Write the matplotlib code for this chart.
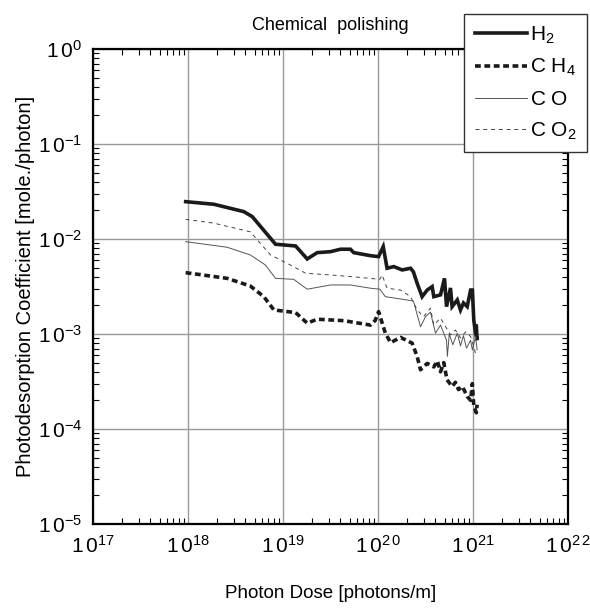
import numpy as np
import matplotlib.pyplot as plt
from matplotlib.ticker import LogLocator, FixedLocator, NullFormatter

plt.rcParams['font.family'] = ['Liberation Sans', 'DejaVu Sans']
plt.rcParams['mathtext.fontset'] = 'custom'
plt.rcParams['mathtext.rm'] = 'Liberation Sans'
plt.rcParams['mathtext.it'] = 'Liberation Sans:italic'

# H2
h2_x = [9.4e17, 1.86e18, 3.85e18, 4.72e18, 8.3e18, 1.35e19, 1.79e19, 2.28e19, 3.15e19, 4.01e19,
        5.1e19, 5.53e19, 8.3e19, 1.01e20, 1.13e20, 1.24e20, 1.46e20, 1.79e20, 2.19e20, 2.35e20,
        2.57e20, 2.9e20, 3.28e20, 3.7e20, 3.85e20, 4.53e20, 4.99e20, 5.24e20, 5.77e20, 6.0e20,
        6.8e20, 7.35e20, 7.9e20, 8.65e20, 9.4e20, 9.8e20, 1.015e21, 1.06e21, 1.1e21, 1.08e21]
h2_y = [0.0247, 0.0232, 0.0194, 0.0172, 0.0088, 0.00844, 0.00616, 0.00718, 0.00735, 0.0078,
        0.0078, 0.00718, 0.00667, 0.00652, 0.0083, 0.00492, 0.00512, 0.00472, 0.00492, 0.0045,
        0.00342, 0.00247, 0.0029, 0.00315, 0.00247, 0.00258, 0.00385, 0.00194, 0.00305, 0.00194,
        0.00228, 0.00179, 0.00212, 0.00194, 0.0029, 0.0029, 0.0014, 0.00102, 0.00086, 0.00121]

# CH4
ch4_x = [9.4e17, 2.57e18, 4.5e18, 6.25e18, 7.98e18, 1.35e19, 1.79e19, 2.28e19, 4.37e19, 8.3e19,
         9.3e19, 1.01e20, 1.19e20, 1.35e20, 1.72e20, 2.28e20, 2.57e20, 2.79e20, 3.28e20, 3.85e20,
         4.2e20, 4.53e20, 4.9e20, 5.3e20, 6.0e20, 6.5e20, 7.0e20, 7.7e20, 8.65e20, 9.4e20,
         9.8e20, 1.015e21, 1.08e21, 1.1e21]
ch4_y = [0.00442, 0.00385, 0.0032, 0.00247, 0.00179, 0.00168, 0.0013, 0.00143, 0.00138, 0.00124,
         0.00139, 0.00172, 0.00102, 0.00081, 0.00092, 0.0008, 0.00058, 0.00042, 0.00049, 0.00045,
         0.00052, 0.0004, 0.0005, 0.00033, 0.00028, 0.00031, 0.00026, 0.00028, 0.00022, 0.0002,
         0.0003, 0.000174, 0.000148, 0.00018]

# CO
co_x = [9.4e17, 2.57e18, 4.5e18, 6.5e18, 8.3e18, 1.29e19, 1.79e19, 3.15e19, 5.1e19, 8.3e19,
        1.04e20, 1.19e20, 2.02e20, 2.35e20, 2.79e20, 3.15e20, 3.55e20, 4.01e20, 4.53e20, 5.24e20,
        5.35e20, 5.6e20, 6.1e20, 6.8e20, 7.35e20, 7.9e20, 8.5e20, 9.4e20, 9.8e20, 1.06e21, 1.1e21]
co_y = [0.00937, 0.00818, 0.00679, 0.00532, 0.00385, 0.00376, 0.00296, 0.00328, 0.00328, 0.00303,
        0.00296, 0.00247, 0.00228, 0.00222, 0.00119, 0.00152, 0.0017, 0.00102, 0.00124, 0.00086,
        0.00058, 0.001, 0.00077, 0.00102, 0.00075, 0.00096, 0.00071, 0.00086, 0.00068, 0.00094, 0.00068]

# CO2
co2_x = [9.4e17, 1.85e18, 4.5e18, 7.35e18, 1.19e19, 1.72e19, 3.15e19, 5.77e19, 1.04e20, 1.1e20,
         1.24e20, 1.72e20, 2.19e20, 2.57e20, 3.0e20, 3.55e20, 3.85e20, 4.53e20, 5.24e20, 5.77e20,
         6.5e20, 7.35e20, 8.3e20, 9.4e20, 1.0e21, 1.08e21]
co2_y = [0.0161, 0.0147, 0.0119, 0.00679, 0.00532, 0.00436, 0.00418, 0.00398, 0.00376, 0.00418,
         0.00303, 0.0029, 0.00247, 0.00179, 0.00152, 0.00187, 0.00124, 0.00147, 0.00115, 0.00098,
         0.0011, 0.00091, 0.00105, 0.00094, 0.00077, 0.00058]

x_ticks = [1e17, 1e18, 1e19, 1e20, 1e21, 1e22]
x_labels = [r'$\mathregular{1\,0^{17}}$', r'$\mathregular{1\,0^{18}}$', r'$\mathregular{1\,0^{19}}$',
            r'$\mathregular{1\,0^{2\,0}}$', r'$\mathregular{1\,0^{21}}$', r'$\mathregular{1\,0^{2\,2}}$']
y_ticks = [1e-5, 1e-4, 1e-3, 1e-2, 1e-1, 1e0]
y_labels = [r'$\mathregular{1\,0^{-5}}$', r'$\mathregular{1\,0^{-4}}$', r'$\mathregular{1\,0^{-3}}$',
            r'$\mathregular{1\,0^{-2}}$', r'$\mathregular{1\,0^{-1}}$', r'$\mathregular{1\,0^{0}}$']

fig = plt.figure(figsize=(5.9, 6.09), dpi=100)
ax = fig.add_axes([0.158, 0.1396, 0.805, 0.78])

l1, = ax.plot(h2_x, h2_y, color='#1a1a1a', lw=2.6, solid_joinstyle='miter')
l2, = ax.plot(ch4_x, ch4_y, color='#1a1a1a', lw=2.6, ls=(0, (1.6, 1.0)))
l3, = ax.plot(co_x, co_y, color='#555555', lw=0.7)
l4, = ax.plot(co2_x, co2_y, color='#444444', lw=0.7, ls=(0, (4, 4)))

ax.set_xscale('log')
ax.set_yscale('log')
ax.set_xlim(1e17, 1e22)
ax.set_ylim(1e-5, 1e0)

ax.xaxis.set_major_locator(FixedLocator(x_ticks))
ax.set_xticklabels(x_labels)
ax.yaxis.set_major_locator(FixedLocator(y_ticks))
ax.set_yticklabels(y_labels)
ax.xaxis.set_minor_locator(LogLocator(base=10, subs=np.arange(2, 10), numticks=20))
ax.yaxis.set_minor_locator(LogLocator(base=10, subs=np.arange(2, 10), numticks=20))
ax.xaxis.set_minor_formatter(NullFormatter())
ax.yaxis.set_minor_formatter(NullFormatter())

ax.tick_params(which='major', direction='in', length=0, labelsize=15, pad=8,
               top=True, right=True)
ax.tick_params(which='minor', direction='in', length=4, width=0.8, top=True, right=True)
ax.grid(True, which='major', color='#999999', lw=1.0)
for s in ax.spines.values():
    s.set_linewidth(1.6)

ax.set_title('Chemical  polishing', fontsize=13, pad=14)
ax.set_xlabel('Photon Dose [photons/m]', fontsize=13.5, labelpad=20)
ax.set_ylabel('Photodesorption Coefficient [mole./photon]', fontsize=14.5, labelpad=2)

leg = fig.legend([l1, l2, l3, l4],
                 [r'$\mathregular{H_2}$', r'$\mathregular{C\ H_4}$', r'$\mathregular{C\ O}$',
                  r'$\mathregular{C\ O_2}$'],
                 loc='upper right', bbox_to_anchor=(0.995, 0.977), fontsize=15,
                 handlelength=2.5, handletextpad=0.15, borderpad=0.5, labelspacing=0.55,
                 fancybox=False, framealpha=1, edgecolor='#333333', borderaxespad=0)
leg.get_frame().set_linewidth(1.0)

fig.savefig('out.png', dpi=100)
